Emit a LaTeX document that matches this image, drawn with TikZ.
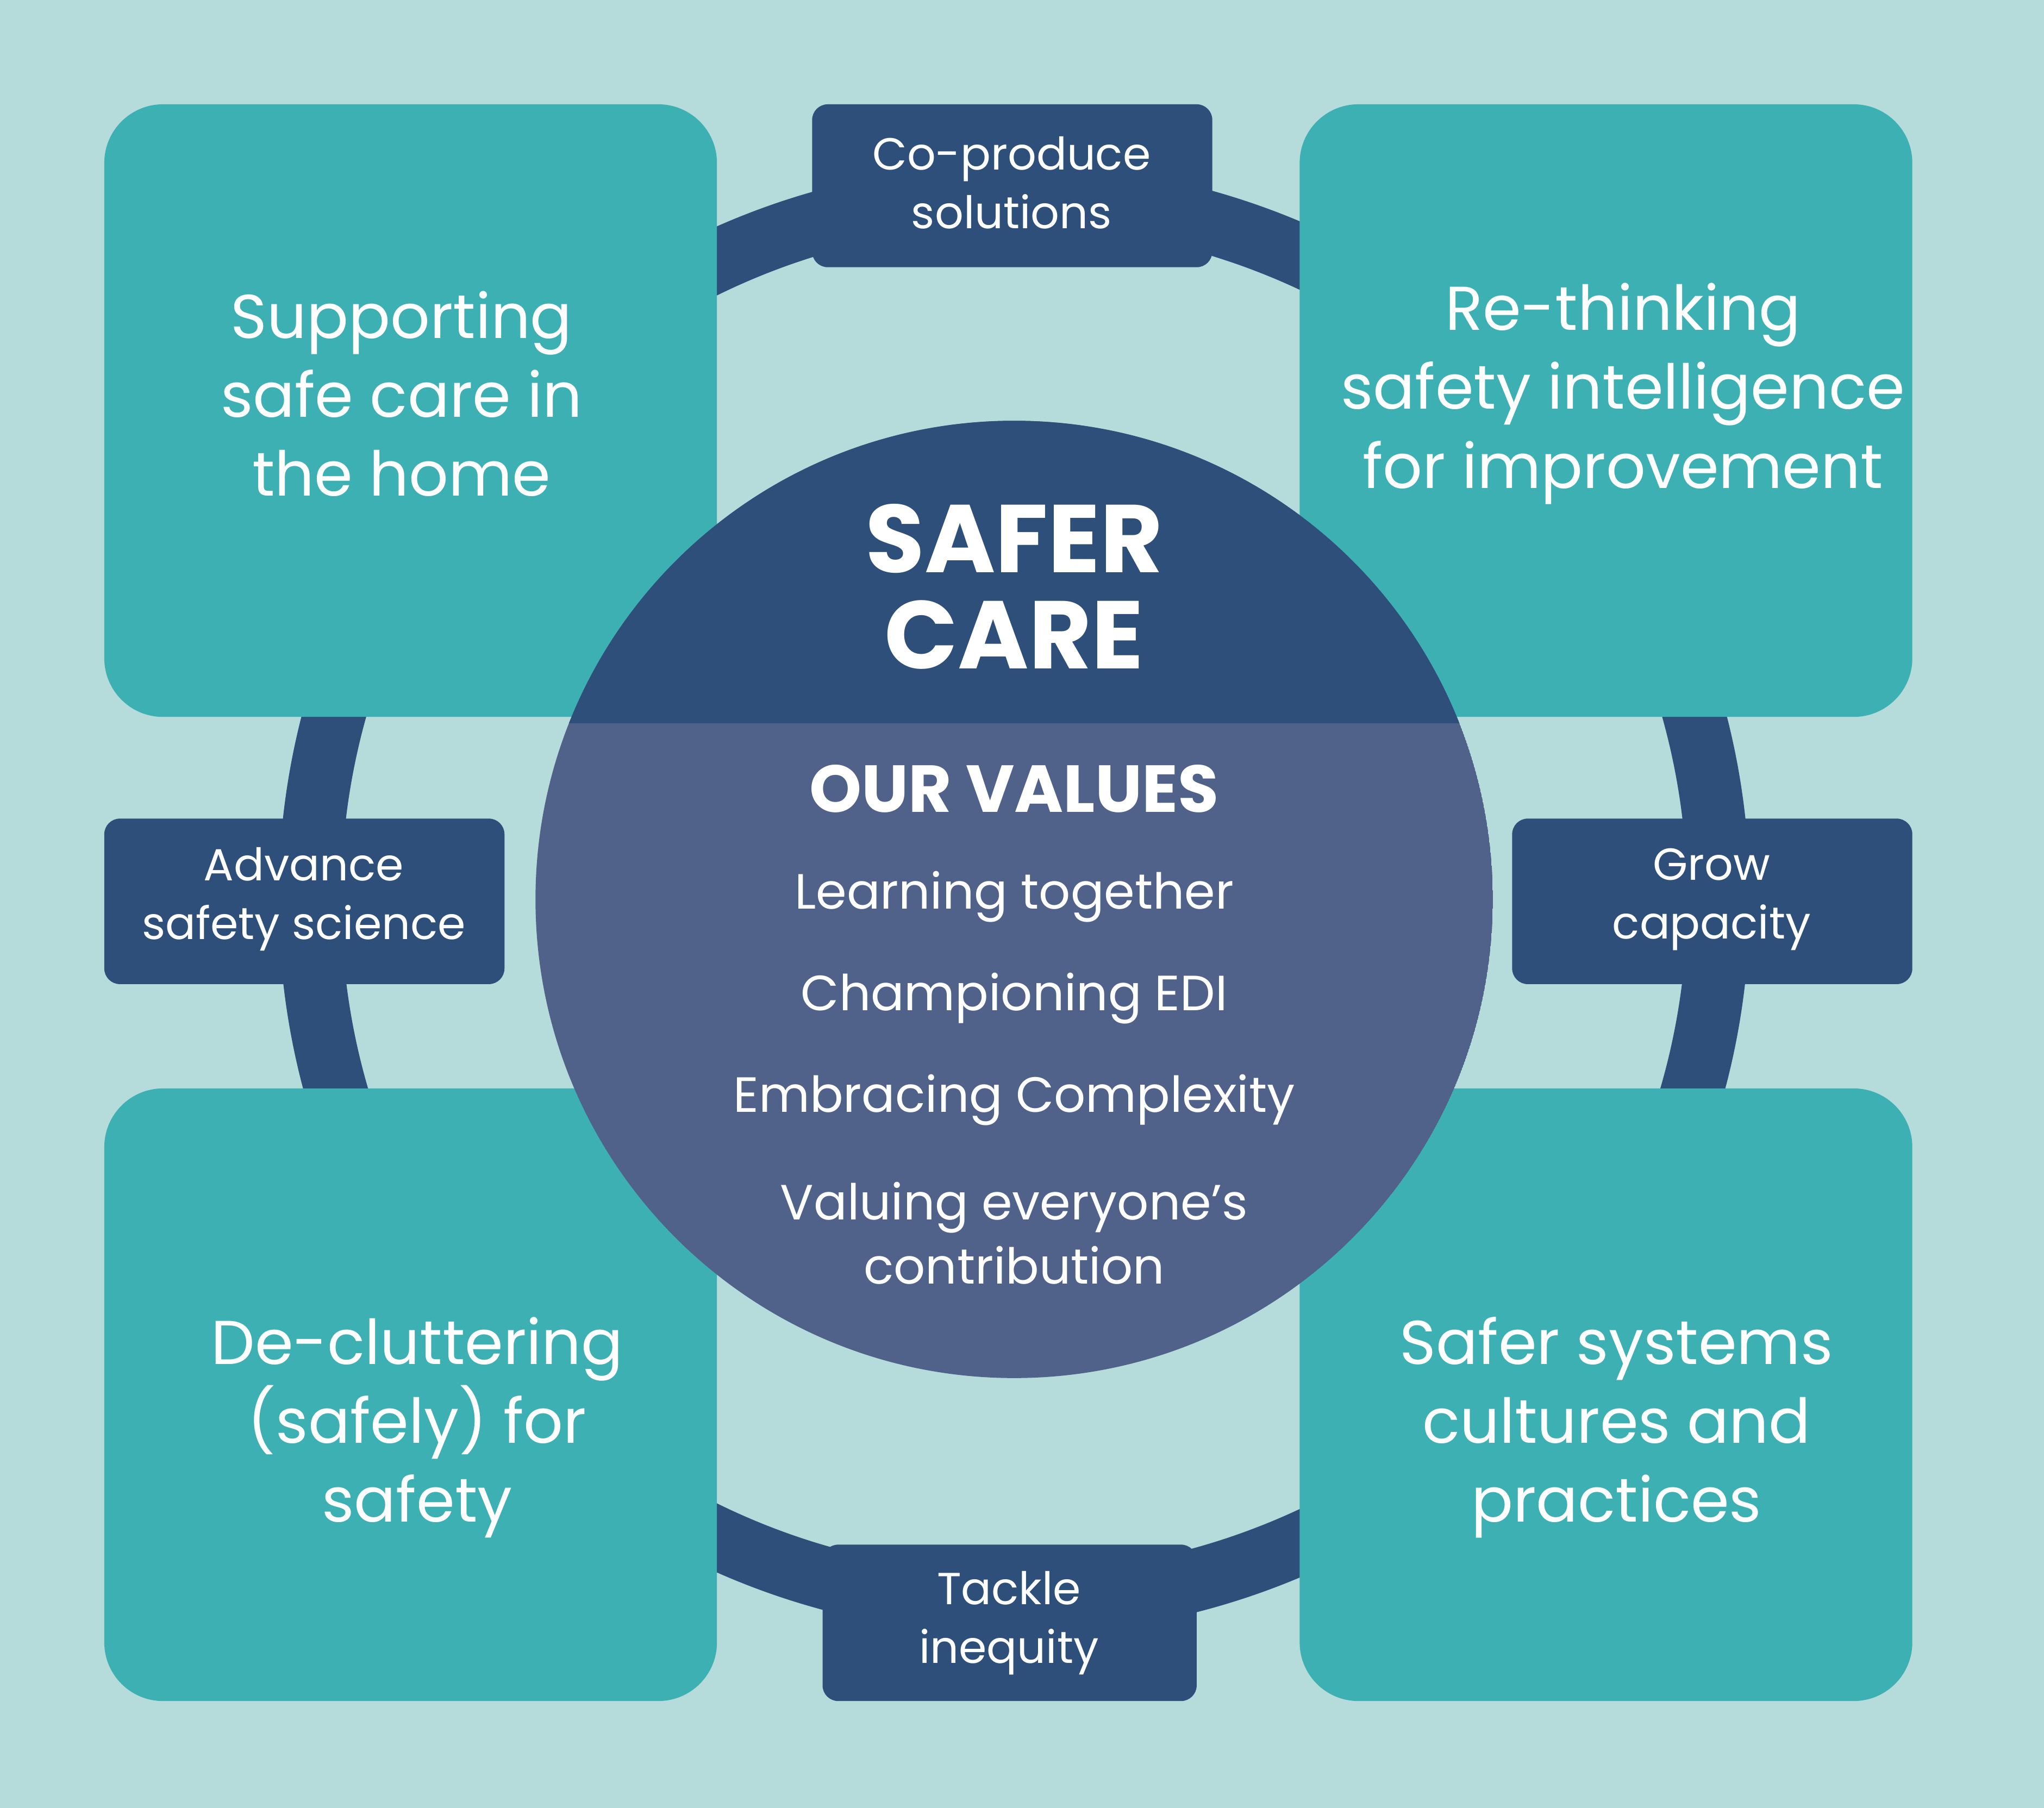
\documentclass[tikz,border=0pt]{standalone}
\usepackage{fontspec}
\setmainfont{Poppins}
\definecolor{bg}{HTML}{B5DBDB}
\definecolor{teal}{HTML}{3DB0B4}
\definecolor{navy}{HTML}{2E4F7A}
\definecolor{slate}{HTML}{50628A}
\begin{document}
\begin{tikzpicture}[x=0.01cm,y=-0.01cm,
  corner/.style={fill=teal,rounded corners=0.45cm},
  tag/.style={fill=navy,rounded corners=0.12cm},
  ctext/.style={text=white,align=center,font=\fontsize{13.5}{17.2}\selectfont},
  ttext/.style={text=white,align=center,font=\fontsize{9.8}{12.8}\selectfont},
  vtext/.style={text=white,align=center,font=\fontsize{10.8}{14}\selectfont}]
\fill[bg] (0,0) rectangle (1568,1387);
\useasboundingbox (0,0) rectangle (1568,1387);
\coordinate (c) at (778,690);
\draw[navy,line width=0.48cm] (c) circle [radius=5.4cm];
\fill[corner] (80,80) rectangle (550,550);
\fill[corner] (997,80) rectangle (1467,550);
\fill[corner] (80,835) rectangle (550,1305);
\fill[corner] (997,835) rectangle (1467,1305);
\begin{scope}
\clip (c) circle [radius=3.67cm];
\fill[slate] (c) circle [radius=3.67cm];
\fill[navy] (300,200) rectangle (1300,555);
\end{scope}
\fill[tag] (623,80) rectangle (930,205);
\fill[tag] (80,628) rectangle (387,755);
\fill[tag] (1160,628) rectangle (1467,755);
\fill[tag] (631,1185) rectangle (918,1305);
\node[ctext] (tl) at (308,302) {Supporting\\safe care in\\the home};
\node[ctext] (tr) at (1245,302) {Re-thinking\\safety intelligence\\for improvement};
\node[ctext] (bl) at (320,1095) {De-cluttering\\(safely) for\\safety};
\node[ctext] (br) at (1240,1095) {Safer systems\\cultures and\\practices};
\node[ttext] (t1) at (776,140) {Co-produce\\solutions};
\node[ttext] (t2) at (233,690) {Advance\\safety science};
\node[ttext] (t3) at (1313,690) {Grow\\capacity};
\node[ttext] (t4) at (774,1245) {Tackle\\inequity};
\node[text=white,align=center,font=\fontsize{21}{21}\bfseries\selectfont] (sc) at (778,450) {SAFER\\CARE};
\node[text=white,font=\fontsize{14.5}{16}\bfseries\selectfont] (ov) at (778,605) {OUR VALUES};
\node[vtext] (v1) at (778,688) {Learning together};
\node[vtext] (v2) at (778,766) {Championing EDI};
\node[vtext] (v3) at (778,844) {Embracing Complexity};
\node[vtext] (v4) at (778,946) {Valuing everyone's\\contribution};
\end{tikzpicture}
\end{document}
